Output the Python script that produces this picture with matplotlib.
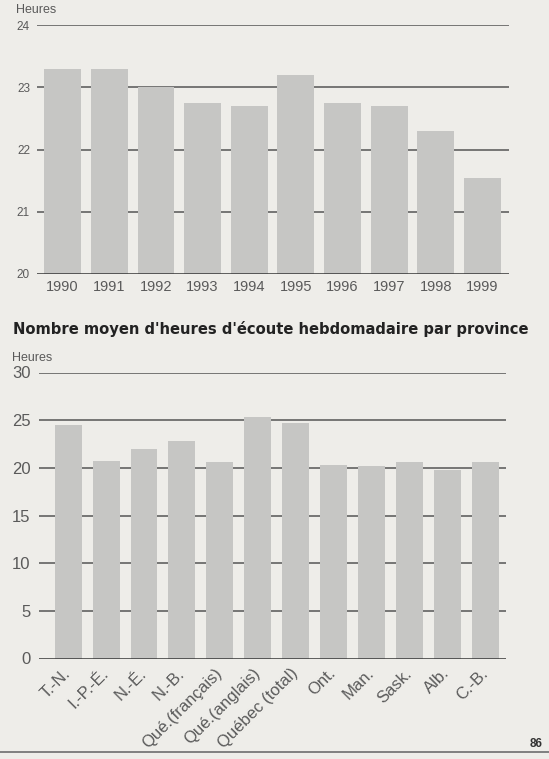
import matplotlib
matplotlib.use("Agg")
import matplotlib.pyplot as plt
import matplotlib.transforms as mtransforms

plt.rcParams['font.family'] = ['Liberation Sans', 'DejaVu Sans']

years = ["1990", "1991", "1992", "1993", "1994", "1995", "1996", "1997", "1998", "1999"]
hours_year = [23.3, 23.3, 23.0, 22.75, 22.7, 23.2, 22.75, 22.7, 22.3, 21.55]

provinces = ["T.-N.", "I.-P.-É.", "N.-É.", "N.-B.", "Qué.(français)", "Qué.(anglais)",
             "Québec (total)", "Ont.", "Man.", "Sask.", "Alb.", "C.-B."]
hours_prov = [24.5, 20.7, 22.0, 22.8, 20.6, 25.3, 24.7, 20.3, 20.2, 20.6, 19.8, 20.6]

title2 = "Nombre moyen d'heures d'écoute hebdomadaire par province"

W, H = 549, 759
bg = "#eeede9"
bar_c = "#c6c6c4"
grid_c = "#555555"
txt_c = "#5a5a5a"

fig = plt.figure(figsize=(W / 100, H / 100), dpi=100, facecolor=bg)

def px_axes(left, top, right, bottom):
    return fig.add_axes([left / W, 1 - bottom / H, (right - left) / W, (bottom - top) / H])

# ---- top chart
ax1 = px_axes(37, 25, 509, 274)
ax1.set_facecolor(bg)
x1 = list(range(len(years)))
ax1.bar(x1, hours_year, width=0.79, color=bar_c, zorder=2)
ax1.set_ylim(20, 24)
ax1.set_xlim(-0.55, 9.57)
ax1.set_yticks([20, 21, 22, 23, 24])
for y in [21, 22, 23, 24]:
    ax1.axhline(y, color=grid_c, lw=1.1, zorder=1)
ax1.axhline(20, color="#333333", lw=1.8, zorder=3)
ax1.set_xticks(x1)
ax1.set_xticklabels(years)
for s in ax1.spines.values():
    s.set_visible(False)
ax1.tick_params(axis='both', length=0, colors=txt_c)
ax1.tick_params(axis='y', pad=5, labelsize=8.5)
ax1.tick_params(axis='x', pad=4, labelsize=10.5)
fig.text(16 / W, 1 - 10 / H, "Heures", fontsize=9, color=txt_c, va='center', ha='left')

# ---- title (fit to reference width)
t = fig.text(13 / W, 1 - 329 / H, title2, fontsize=11, fontweight='bold', color="#222222",
             va='center', ha='left', family='DejaVu Sans')
fig.canvas.draw()
bb = t.get_window_extent(renderer=fig.canvas.get_renderer())
t.set_fontsize(11 * 512 / bb.width)

# ---- bottom chart
ax2 = px_axes(39, 372.5, 506, 658.5)
ax2.set_facecolor(bg)
x2 = list(range(len(provinces)))
ax2.bar(x2, hours_prov, width=0.71, color=bar_c, zorder=2)
ax2.set_ylim(0, 30)
ax2.set_xlim(-0.77, 11.55)
ax2.set_yticks([0, 5, 10, 15, 20, 25, 30])
for y in [5, 10, 15, 20, 25, 30]:
    ax2.axhline(y, color=grid_c, lw=1.1, zorder=1)
ax2.axhline(0, color="#333333", lw=1.8, zorder=3)
ax2.set_xticks(x2)
ax2.set_xticklabels(provinces, rotation=45, ha='right', va='center', rotation_mode='anchor')
offset = mtransforms.ScaledTranslation(8 / 100, 0, fig.dpi_scale_trans)
for lab in ax2.get_xticklabels():
    lab.set_transform(lab.get_transform() + offset)
for s in ax2.spines.values():
    s.set_visible(False)
ax2.tick_params(axis='both', length=0, colors=txt_c)
ax2.tick_params(axis='y', pad=6, labelsize=12)
ax2.tick_params(axis='x', pad=9, labelsize=12)
fig.text(12 / W, 1 - 358 / H, "Heures", fontsize=9, color=txt_c, va='center', ha='left')

# bottom rule and page number
fig.add_artist(plt.Line2D([0, 1], [1 - 752 / H, 1 - 752 / H], color="#777777", lw=1.3,
                          transform=fig.transFigure))
fig.text(530 / W, 1 - 750 / H, "86", fontsize=8.5, fontweight='bold', color="#333333",
         va='bottom', ha='left')

fig.savefig("out.png", dpi=100, facecolor=bg)
